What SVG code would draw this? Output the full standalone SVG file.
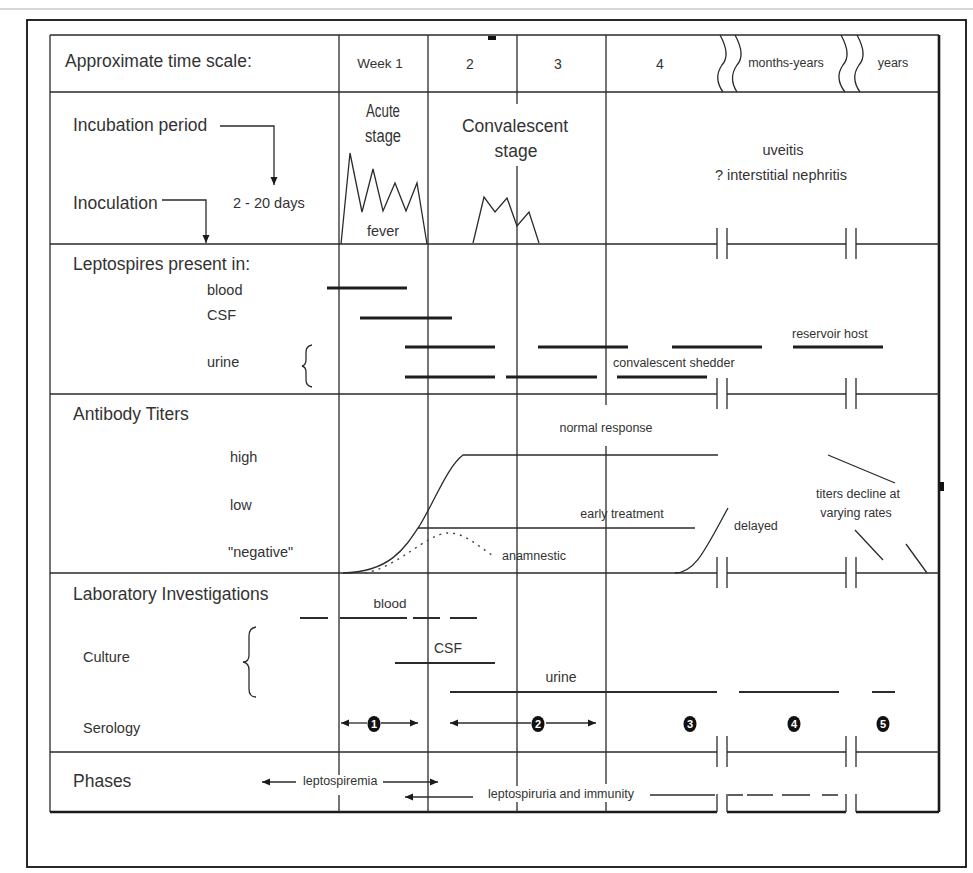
<svg xmlns="http://www.w3.org/2000/svg" width="973" height="873" viewBox="0 0 973 873">
<defs>
<style>
.ln{stroke:#2b2b2b;stroke-width:1.3;fill:none}
.bd{stroke:#1a1a1a;stroke-width:2.6;fill:none}
.bar{stroke:#1e1e1e;stroke-width:3.2;fill:none}
.lab{stroke:#2b2b2b;stroke-width:1.8;fill:none}
.dot{stroke:#444;stroke-width:1.4;fill:none;stroke-dasharray:2 5}
.t{font-family:"Liberation Sans",Arial,sans-serif;fill:#333}
.L{font-size:17.5px}
.M{font-size:14.5px}
.S{font-size:12.5px}
.c{text-anchor:middle}
.num{font-family:"Liberation Sans",Arial,sans-serif;font-size:11px;font-weight:bold;fill:#fff;text-anchor:middle}
</style>
<marker id="ah" viewBox="0 0 8 8" refX="8" refY="4" markerWidth="8" markerHeight="8" markerUnits="userSpaceOnUse" orient="auto-start-reverse">
<path d="M0,0.5 L8,4 L0,7.5 z" fill="#1a1a1a"/>
</marker>
</defs>
<rect width="973" height="873" fill="#fff"/>
<line x1="0" y1="9" x2="973" y2="9" stroke="#b0b0b0" stroke-width="1"/>
<rect x="27" y="20" width="939" height="847" fill="none" stroke="#111" stroke-width="1.8"/>

<g id="grid">
<path class="ln" d="M50,35 H939 M50,92 H939"/>
<path class="ln" d="M50,35 V812"/>
<path class="bd" d="M939,35 V812"/>
<path class="ln" d="M50,244 H717 M727,244 H846 M856,244 H939"/>
<path class="ln" d="M50,394 H717 M727,394 H846 M856,394 H939"/>
<path class="ln" d="M50,573 H717 M727,573 H846 M856,573 H939"/>
<path class="ln" d="M50,752 H717 M727,752 H846 M856,752 H939"/>
<path class="bd" d="M50,812 H717 M727,812 H846 M856,812 H939"/>
<path class="ln" d="M717,228 V259 M727,228 V259 M846,228 V259 M856,228 V259"/>
<path class="ln" d="M717,378 V409 M727,378 V409 M846,378 V409 M856,378 V409"/>
<path class="ln" d="M717,557 V588 M727,557 V588 M846,557 V588 M856,557 V588"/>
<path class="ln" d="M717,736 V767 M727,736 V767 M846,736 V767 M856,736 V767"/>
<path class="ln" d="M717,794 V812 M727,794 V812 M846,794 V812 M856,794 V812"/>
<path class="ln" d="M339,35 V775 M339,795 V812"/>
<path class="ln" d="M428,35 V812"/>
<path class="ln" d="M517,35 V104 M517,166 V786 M517,802 V812"/>
<path class="ln" d="M606,35 V405 M606,446 V784 M606,802 V812"/>
<path class="ln" d="M720,35 Q731,55 722,65 Q713,78 723,92 M735,35 Q746,55 737,65 Q728,78 737,92"/>
<path class="ln" d="M841,35 Q852,55 843,65 Q834,78 845,92 M857,35 Q868,55 859,65 Q850,78 860,92"/>
<rect x="488" y="36" width="8" height="4" fill="#111"/>
<rect x="940" y="482" width="4" height="9" fill="#111"/>
</g>

<g id="header">
<text class="t L" x="65" y="67">Approximate time scale:</text>
<text class="t c" x="380" y="68" font-size="13.5">Week 1</text>
<text class="t c" x="470" y="69" font-size="14">2</text>
<text class="t c" x="558" y="69" font-size="14">3</text>
<text class="t c" x="660" y="69" font-size="14">4</text>
<text class="t S c" x="786" y="67" font-size="12">months-years</text>
<text class="t S c" x="893" y="67" font-size="12">years</text>
</g>

<g id="incubation">
<text class="t L" x="73" y="131">Incubation period</text>
<text class="t L" x="73" y="209">Inoculation</text>
<text class="t M" x="233" y="208">2 - 20 days</text>
<g id="connectors">
<path class="ln" d="M220,126 H274 V185" marker-end="url(#ah)"/>
<path class="ln" d="M162,200 H206 V243" marker-end="url(#ah)"/>
</g>
<text class="t c" x="383" y="117" font-size="18" textLength="34" lengthAdjust="spacingAndGlyphs">Acute</text>
<text class="t c" x="383" y="142" font-size="18" textLength="36" lengthAdjust="spacingAndGlyphs">stage</text>
<path class="ln" d="M341,244 L350,153 L362,212 L373,169 L383,211 L395,183 L406,211 L417,183 L427,244"/>
<text class="t M c" x="383" y="236">fever</text>
<text class="t L c" x="515" y="132">Convalescent</text>
<text class="t L c" x="516" y="157">stage</text>
<path class="ln" d="M473,243 L484,197 L495,212 L507,198 L517,226 L529,212 L539,243"/>
<text class="t M c" x="783" y="155">uveitis</text>
<text class="t M c" x="781" y="180">? interstitial nephritis</text>
</g>

<g id="leptospires">
<text class="t L" x="73" y="270">Leptospires present in:</text>
<text class="t M" x="207" y="295">blood</text>
<text class="t M" x="207" y="320">CSF</text>
<text class="t M" x="207" y="367">urine</text>
<path class="ln" d="M312,345 Q306,346 306,352 L306,360 Q306,365 302,366 Q306,367 306,372 L306,380 Q306,386 312,387" stroke-width="1.5"/>
<path class="bar" d="M327,288 H407 M360,318 H452"/>
<path class="bar" d="M405,347 H495 M538,347 H628 M672,347 H762 M793,347 H883"/>
<path class="bar" d="M405,377 H495 M506,377 H597 M617,377 H707"/>
<text class="t S" x="792" y="338" font-size="12">reservoir host</text>
<text class="t S" x="613" y="367" font-size="12">convalescent shedder</text>
</g>

<g id="antibody">
<text class="t L" x="73" y="420">Antibody Titers</text>
<text class="t M" x="230" y="462">high</text>
<text class="t M" x="230" y="510">low</text>
<text class="t M" x="228" y="557">"negative"</text>
<path class="ln" d="M343,573 C390,572 405,548 420,525 C435,500 448,466 463,455 L718,455"/>
<path class="ln" d="M418,528 H695"/>
<path class="dot" d="M365,573 C400,566 425,535 447,533 C465,532 480,548 495,557"/>
<path class="ln" d="M675,573 C695,573 705,550 728,508"/>
<path class="ln" d="M828,455 L895,483 M855,530 L883,560 M906,544 L927,573"/>
<text class="t S c" x="606" y="432">normal response</text>
<text class="t S c" x="622" y="518">early treatment</text>
<text class="t S" x="502" y="560">anamnestic</text>
<text class="t S" x="734" y="530">delayed</text>
<text class="t S c" x="858" y="498">titers decline at</text>
<text class="t S c" x="856" y="517">varying rates</text>
</g>

<g id="laboratory">
<text class="t L" x="73" y="600">Laboratory Investigations</text>
<text class="t M" x="83" y="662">Culture</text>
<text class="t M" x="83" y="733">Serology</text>
<path class="ln" d="M256,627 Q249,628 249,636 L249,655 Q249,662 243,662 Q249,663 249,670 L249,689 Q249,697 256,697" stroke-width="2"/>
<text class="t c" x="390" y="608" font-size="13.5">blood</text>
<path class="lab" d="M300,618 H328 M340,618 H407 M413,618 H440 M450,618 H477"/>
<text class="t c" x="448" y="653" font-size="14">CSF</text>
<path class="lab" d="M395,663 H495" stroke-width="1.5"/>
<text class="t c" x="561" y="682" font-size="14">urine</text>
<path class="lab" d="M450,692 H717 M739,692 H839 M872,692 H895" stroke-width="1.5"/>
<path class="ln" d="M367,723 H341" stroke-width="1.8" marker-end="url(#ah)"/>
<path class="ln" d="M381,723 H418" stroke-width="1.8" marker-end="url(#ah)"/>
<path class="ln" d="M531,723 H450" stroke-width="1.8" marker-end="url(#ah)"/>
<path class="ln" d="M546,723 H596" stroke-width="1.8" marker-end="url(#ah)"/>
<g id="n1"><ellipse cx="374" cy="724" rx="6.5" ry="8" fill="#111"/><text class="num" x="374" y="728">1</text></g>
<g id="n2"><ellipse cx="538" cy="724" rx="6.5" ry="8" fill="#111"/><text class="num" x="538" y="728">2</text></g>
<g id="n3"><ellipse cx="690" cy="724" rx="6.5" ry="8" fill="#111"/><text class="num" x="690" y="728">3</text></g>
<g id="n4"><ellipse cx="794" cy="724" rx="6.5" ry="8" fill="#111"/><text class="num" x="794" y="728">4</text></g>
<g id="n5"><ellipse cx="883" cy="724" rx="6.5" ry="8" fill="#111"/><text class="num" x="883" y="728">5</text></g>
</g>

<g id="phases">
<text class="t L" x="73" y="787">Phases</text>
<text class="t S" x="303" y="785">leptospiremia</text>
<path class="ln" d="M296,782 H262" stroke-width="1.8" marker-end="url(#ah)"/>
<path class="ln" d="M383,782 H438" stroke-width="1.8" marker-end="url(#ah)"/>
<path class="ln" d="M473,797 H405" stroke-width="1.8" marker-end="url(#ah)"/>
<text class="t S" x="488" y="798">leptospiruria and immunity</text>
<path class="ln" d="M650,795 H715" stroke-width="1.8"/>
<path class="ln" d="M728,795 H743 M747,795 H773 M782,795 H810 M822,795 H838" stroke-width="1.8"/>
</g>
</svg>
